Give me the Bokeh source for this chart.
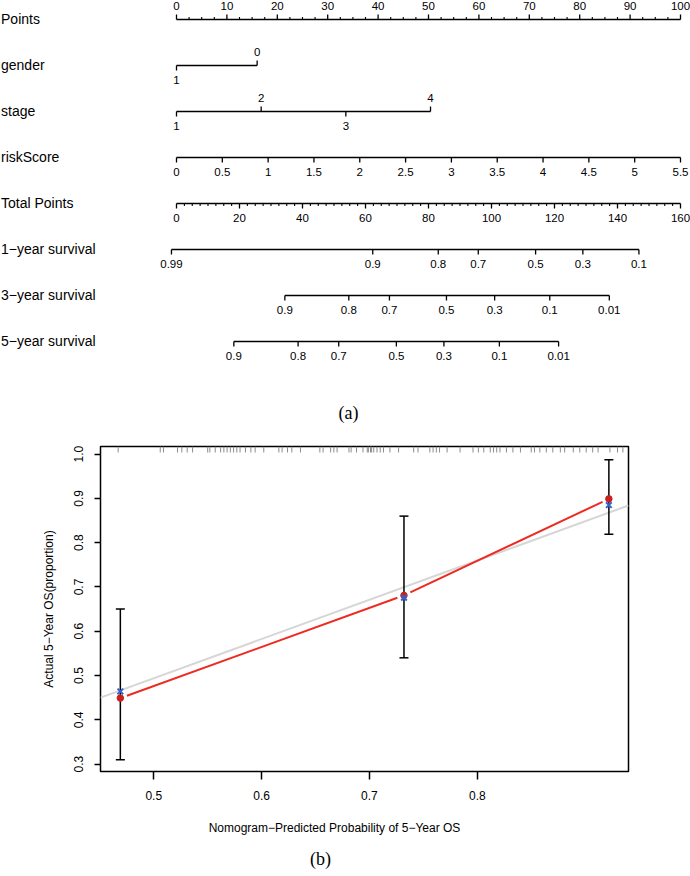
import numpy as np
from bokeh.plotting import figure
from bokeh.models import Range1d, FixedTicker, PrintfTickFormatter
from bokeh.core.properties import value
from bokeh.embed import file_html
from bokeh.resources import INLINE

# ------------------------------------------------------------------ data
row_labels = ["Points", "gender", "stage", "riskScore", "Total Points",
              "1\u2212year survival", "3\u2212year survival", "5\u2212year survival"]

points_major = [0, 10, 20, 30, 40, 50, 60, 70, 80, 90, 100]
points_minor_step = 2.5
points_max = 100

gender_levels = ["1", "0"]
gender_points = [0.0, 16.0]
gender_tick_up = [False, True]

stage_levels = ["1", "2", "3", "4"]
stage_points = [0.0, 16.8, 33.6, 50.4]
stage_tick_up = [False, True, False, True]

risk_values = [0, 0.5, 1, 1.5, 2, 2.5, 3, 3.5, 4, 4.5, 5, 5.5]
risk_max_value = 5.5          # riskScore that earns points_max points

total_major = [0, 20, 40, 60, 80, 100, 120, 140, 160]
total_minor_step = 2.5
total_max = 160

surv1_labels = ["0.99", "0.9", "0.8", "0.7", "0.5", "0.3", "0.1"]
surv1_total = [-1.6, 62.3, 83.1, 95.8, 114.0, 129.0, 146.8]
surv3_labels = ["0.9", "0.8", "0.7", "0.5", "0.3", "0.1", "0.01"]
surv3_total = [34.4, 54.7, 67.6, 85.7, 101.0, 118.5, 137.4]
surv5_labels = ["0.9", "0.8", "0.7", "0.5", "0.3", "0.1", "0.01"]
surv5_total = [18.2, 38.6, 51.5, 69.8, 84.9, 102.5, 121.3]

# calibration (5-year OS)
cal_pred = [0.469, 0.732, 0.922]
cal_obs = [0.449, 0.681, 0.899]
cal_corrected = [0.464, 0.676, 0.885]
cal_lo = [0.310, 0.540, 0.819]
cal_hi = [0.650, 0.860, 0.987]
ideal_x = [0.4506, 0.9402]
ideal_y = [0.450, 0.884]
cal_xticks = [0.5, 0.6, 0.7, 0.8]
cal_yticks = [0.3, 0.4, 0.5, 0.6, 0.7, 0.8, 0.9, 1.0]
rug_pred = [0.467, 0.506, 0.509, 0.522, 0.526, 0.531, 0.536, 0.550, 0.552, 0.557,
            0.562, 0.565, 0.568, 0.571, 0.574, 0.577, 0.580, 0.585, 0.590, 0.594,
            0.602, 0.616, 0.619, 0.624, 0.628, 0.636, 0.654, 0.657, 0.664, 0.667,
            0.670, 0.681, 0.683, 0.688, 0.694, 0.698, 0.699, 0.701, 0.702, 0.704,
            0.707, 0.710, 0.713, 0.719, 0.727, 0.741, 0.745, 0.756, 0.759, 0.762,
            0.765, 0.772, 0.784, 0.796, 0.801, 0.806, 0.812, 0.815, 0.818, 0.821,
            0.827, 0.833, 0.840, 0.850, 0.853, 0.858, 0.864, 0.870, 0.877, 0.881,
            0.889, 0.895, 0.901, 0.907, 0.912, 0.923, 0.930, 0.935]

x_title = "Nomogram\u2212Predicted Probability of 5\u2212Year OS"
y_title = "Actual 5\u2212Year OS(proportion)"
captions = ["(a)", "(b)"]

# ------------------------------------------------------------------ layout
FONT = "Liberation Sans"
SERIF = "Liberation Serif"
W = 690
H1 = 430
PX0 = 176.0      # canvas x of 0 points
PXU = 5.04       # px per point
ROW_Y0 = 19.0
ROW_DY = 46.0
MAJ = 5.0
MINL = 2.5
LAB_UP = 13.5
LAB_DN = 14.5

p1 = figure(width=W, height=H1, x_range=Range1d(-PX0 / PXU, (W - PX0) / PXU),
            y_range=Range1d(H1, 0), output_backend="svg", toolbar_location=None,
            min_border=0)
p1.axis.visible = False
p1.grid.visible = False
p1.outline_line_color = None

sx0, sy0, sx1, sy1 = [], [], [], []
mx0, my0, mx1, my1 = [], [], [], []
tx, ty, tt = [], [], []


def seg(a, b, c, d, minor=False):
    if minor:
        mx0.append(a); my0.append(b); mx1.append(c); my1.append(d)
    else:
        sx0.append(a); sy0.append(b); sx1.append(c); sy1.append(d)


def tp2pts(t):
    return t * points_max / total_max


def axis_row(i, xs, labels, ups, minors=None):
    y = ROW_Y0 + i * ROW_DY
    seg(min(xs), y, max(xs), y)
    for x, lab, up in zip(xs, labels, ups):
        if up:
            seg(x, y, x, y - MAJ)
            tx.append(x); ty.append(y - LAB_UP); tt.append(lab)
        else:
            seg(x, y, x, y + MAJ)
            tx.append(x); ty.append(y + LAB_DN); tt.append(lab)
    if minors is not None:
        for x, up in minors:
            seg(x, y, x, y - MINL if up else y + MINL, minor=True)


pmin = [(v, True) for v in np.arange(0, points_max + 0.01, points_minor_step)
        if all(abs(v - m) > 1e-6 for m in points_major)]
axis_row(0, points_major, [str(v) for v in points_major], [True] * len(points_major), pmin)
axis_row(1, gender_points, gender_levels, gender_tick_up)
axis_row(2, stage_points, stage_levels, stage_tick_up)
axis_row(3, [v * points_max / risk_max_value for v in risk_values],
         [f"{v:g}" for v in risk_values], [False] * len(risk_values))
tmin = [(tp2pts(v), False) for v in np.arange(0, total_max + 0.01, total_minor_step)
        if all(abs(v - m) > 1e-6 for m in total_major)]
axis_row(4, [tp2pts(v) for v in total_major], [str(v) for v in total_major],
         [False] * len(total_major), tmin)
for i, (labs, tot) in enumerate([(surv1_labels, surv1_total),
                                  (surv3_labels, surv3_total),
                                  (surv5_labels, surv5_total)]):
    axis_row(5 + i, [tp2pts(v) for v in tot], labs, [False] * len(labs))

p1.segment(sx0, sy0, sx1, sy1, line_color="black", line_width=1.3)
p1.segment(mx0, my0, mx1, my1, line_color="black", line_width=1.1)
p1.text(tx, ty, text=tt, text_font=value(FONT), text_font_size="11.5px",
        text_align="center", text_baseline="middle", text_color="black")

lab_x = [p1.x_range.start + 0.1] * len(row_labels)
lab_y = [ROW_Y0 + i * ROW_DY - 1 for i in range(len(row_labels))]
p1.text(lab_x, lab_y, text=row_labels, text_font=value(FONT), text_font_size="14px",
        text_align="left", text_baseline="middle", text_color="black")

p1.text([(348 - PX0) / PXU], [412], text=[captions[0]], text_font=value(SERIF),
        text_font_size="18px", text_align="center", text_baseline="middle",
        text_color="black")

# ------------------------------------------------------------------ calibration
FT = 16
FL = 100
FW = 528
FH = 325
FB = 40
H2 = FT + FH + FB
x0r, x1r = 0.4506, 0.9402
y0r, y1r = 0.2833, 1.0172
dxpp = (x1r - x0r) / FW
dypp = (y1r - y0r) / FH

p2 = figure(width=W, height=H2, x_range=Range1d(x0r, x1r), y_range=Range1d(y0r, y1r),
            output_backend="svg", toolbar_location=None,
            min_border_left=FL, min_border_right=W - FL - FW,
            min_border_top=FT, min_border_bottom=FB)
p2.grid.visible = False
p2.outline_line_color = "black"
p2.outline_line_width = 1.5
p2.outline_line_alpha = 1.0

p2.xaxis.ticker = FixedTicker(ticks=cal_xticks)
p2.yaxis.ticker = FixedTicker(ticks=cal_yticks)
p2.xaxis.formatter = PrintfTickFormatter(format="%.1f")
p2.yaxis.formatter = PrintfTickFormatter(format="%.1f")
for ax in (p2.xaxis[0], p2.yaxis[0]):
    ax.axis_line_color = None
    ax.major_tick_in = 0
    ax.minor_tick_in = 0
    ax.minor_tick_out = 0
    ax.major_tick_line_width = 1.5
    ax.major_tick_line_color = "black"
    ax.major_label_text_font = FONT
    ax.major_label_text_font_size = "12px"
    ax.major_label_text_color = "black"
p2.xaxis.major_tick_out = 8
p2.xaxis.major_label_standoff = 11
p2.yaxis.major_tick_out = 6
p2.yaxis.major_label_standoff = 11
p2.yaxis.major_label_orientation = "vertical"
p2.yaxis.axis_label = y_title
p2.yaxis.axis_label_text_font = FONT
p2.yaxis.axis_label_text_font_style = "normal"
p2.yaxis.axis_label_text_font_size = "12px"
p2.yaxis.axis_label_text_color = "black"
p2.yaxis.axis_label_standoff = 16

rug_len = 6 * dypp
p2.segment(rug_pred, [y1r] * len(rug_pred), rug_pred, [y1r - rug_len] * len(rug_pred),
           line_color="#8c8c8c", line_width=1)

p2.line(ideal_x, ideal_y, line_color="#d6d6d6", line_width=2)

gap = 7.0
rx0, ry0, rx1, ry1 = [], [], [], []
for i in range(len(cal_pred) - 1):
    ax_, ay_ = cal_pred[i] / dxpp, cal_obs[i] / dypp
    bx_, by_ = cal_pred[i + 1] / dxpp, cal_obs[i + 1] / dypp
    d = np.hypot(bx_ - ax_, by_ - ay_)
    ux, uy = (bx_ - ax_) / d, (by_ - ay_) / d
    rx0.append((ax_ + ux * gap) * dxpp); ry0.append((ay_ + uy * gap) * dypp)
    rx1.append((bx_ - ux * gap) * dxpp); ry1.append((by_ - uy * gap) * dypp)
p2.segment(rx0, ry0, rx1, ry1, line_color="#ee2a22", line_width=2)

cap = 4.5 * dxpp
p2.segment(cal_pred, cal_lo, cal_pred, cal_hi, line_color="black", line_width=1.5)
p2.segment([x - cap for x in cal_pred], cal_lo, [x + cap for x in cal_pred], cal_lo,
           line_color="black", line_width=1.5)
p2.segment([x - cap for x in cal_pred], cal_hi, [x + cap for x in cal_pred], cal_hi,
           line_color="black", line_width=1.5)

p2.scatter(cal_pred, cal_obs, marker="circle", size=6.5, fill_color="#cc1f1a",
           line_color="#cc1f1a")
p2.scatter(cal_pred, cal_corrected, marker="x", size=8, line_color="#3462cc",
           line_width=2)

# ------------------------------------------------------------------ captions strip
top3 = H1 + H2          # page y of this strip
H3 = 876 - top3
p3 = figure(width=W, height=H3, x_range=Range1d(0, W), y_range=Range1d(H3, 0),
            output_backend="svg", toolbar_location=None, min_border=0)
p3.axis.visible = False
p3.grid.visible = False
p3.outline_line_color = None
p3.text([334], [827 - top3], text=[x_title], text_font=value(FONT),
        text_font_size="12px", text_align="center", text_baseline="middle",
        text_color="black")
p3.text([320], [858 - top3], text=[captions[1]], text_font=value(SERIF),
        text_font_size="18px", text_align="center", text_baseline="middle",
        text_color="black")

open("out.html", "w").write(file_html([p1, p2, p3], INLINE))
